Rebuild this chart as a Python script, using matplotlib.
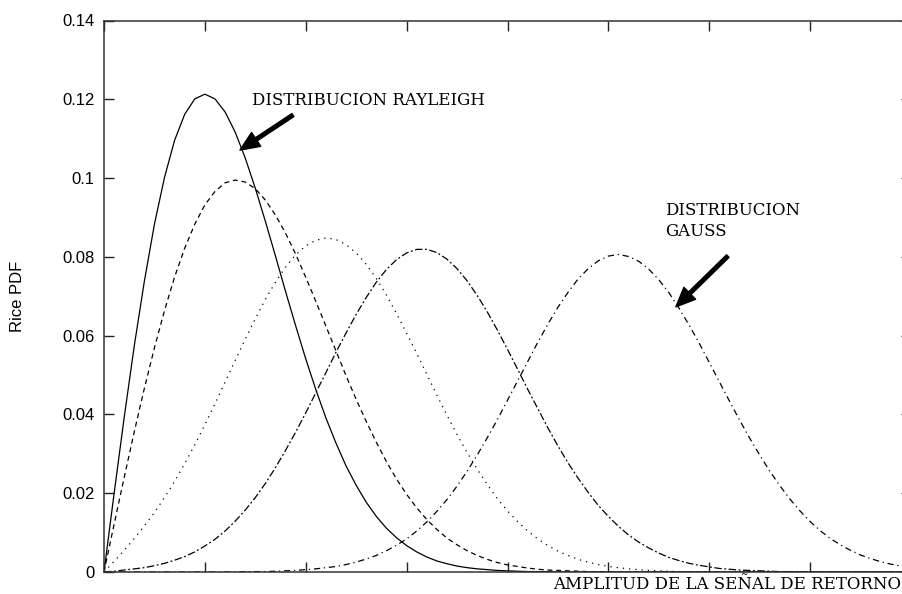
import matplotlib
matplotlib.use("Agg")
import matplotlib.pyplot as plt

# ---- data ----
amplitude = [0.0, 0.1, 0.2, 0.3, 0.4, 0.5, 0.6, 0.7, 0.8, 0.9,
             1.0, 1.1, 1.2, 1.3, 1.4, 1.5, 1.6, 1.7, 1.8, 1.9,
             2.0, 2.1, 2.2, 2.3, 2.4, 2.5, 2.6, 2.7, 2.8, 2.9,
             3.0, 3.1, 3.2, 3.3, 3.4, 3.5, 3.6, 3.7, 3.8, 3.9,
             4.0, 4.1, 4.2, 4.3, 4.4, 4.5, 4.6, 4.7, 4.8, 4.9,
             5.0, 5.1, 5.2, 5.3, 5.4, 5.5, 5.6, 5.7, 5.8, 5.9,
             6.0, 6.1, 6.2, 6.3, 6.4, 6.5, 6.6, 6.7, 6.8, 6.9,
             7.0, 7.1, 7.2, 7.3, 7.4, 7.5, 7.6, 7.7, 7.8, 7.9,
             8.0]

rice_rayleigh = [0.0, 0.0199, 0.0392, 0.0574, 0.0738, 0.0883, 0.1002, 0.1096, 0.1162, 0.1201,
                 0.1213, 0.1201, 0.1168, 0.1117, 0.1051, 0.0974, 0.0890, 0.0802, 0.0712, 0.0625,
                 0.0541, 0.0463, 0.0391, 0.0327, 0.0269, 0.0220, 0.0177, 0.0141, 0.0111, 0.0087,
                 0.0067, 0.0051, 0.0038, 0.0028, 0.0021, 0.0015, 0.0011, 0.0008, 0.0006, 0.0004,
                 0.0003, 0.0002, 0.0001, 0.0001, 0.0001, 0.0, 0.0, 0.0, 0.0, 0.0,
                 0.0, 0.0, 0.0, 0.0, 0.0, 0.0, 0.0, 0.0, 0.0, 0.0,
                 0.0, 0.0, 0.0, 0.0, 0.0, 0.0, 0.0, 0.0, 0.0, 0.0,
                 0.0, 0.0, 0.0, 0.0, 0.0, 0.0, 0.0, 0.0, 0.0, 0.0,
                 0.0]

rice_b = [0.0, 0.0121, 0.0240, 0.0356, 0.0466, 0.0569, 0.0664, 0.0749, 0.0822, 0.0883,
          0.0932, 0.0966, 0.0988, 0.0995, 0.0990, 0.0973, 0.0944, 0.0906, 0.0860, 0.0807,
          0.0748, 0.0687, 0.0624, 0.0561, 0.0498, 0.0438, 0.0382, 0.0329, 0.0280, 0.0236,
          0.0197, 0.0163, 0.0133, 0.0108, 0.0086, 0.0069, 0.0054, 0.0042, 0.0032, 0.0024,
          0.0018, 0.0014, 0.0010, 0.0007, 0.0005, 0.0004, 0.0003, 0.0002, 0.0001, 0.0001,
          0.0001, 0.0, 0.0, 0.0, 0.0, 0.0, 0.0, 0.0, 0.0, 0.0,
          0.0, 0.0, 0.0, 0.0, 0.0, 0.0, 0.0, 0.0, 0.0, 0.0,
          0.0, 0.0, 0.0, 0.0, 0.0, 0.0, 0.0, 0.0, 0.0, 0.0,
          0.0]

rice_c = [0.0, 0.0027, 0.0055, 0.0085, 0.0117, 0.0151, 0.0189, 0.0230, 0.0275, 0.0323,
          0.0374, 0.0427, 0.0482, 0.0537, 0.0591, 0.0643, 0.0692, 0.0736, 0.0774, 0.0805,
          0.0828, 0.0842, 0.0848, 0.0844, 0.0831, 0.0810, 0.0781, 0.0745, 0.0703, 0.0656,
          0.0606, 0.0555, 0.0502, 0.0449, 0.0398, 0.0349, 0.0303, 0.0261, 0.0222, 0.0186,
          0.0155, 0.0128, 0.0104, 0.0084, 0.0067, 0.0053, 0.0042, 0.0032, 0.0025, 0.0019,
          0.0014, 0.0011, 0.0008, 0.0006, 0.0004, 0.0003, 0.0002, 0.0001, 0.0001, 0.0001,
          0.0, 0.0, 0.0, 0.0, 0.0, 0.0, 0.0, 0.0, 0.0, 0.0,
          0.0, 0.0, 0.0, 0.0, 0.0, 0.0, 0.0, 0.0, 0.0, 0.0,
          0.0]

rice_d = [0.0, 0.0002, 0.0005, 0.0008, 0.0011, 0.0016, 0.0022, 0.0030, 0.0039, 0.0051,
          0.0066, 0.0083, 0.0104, 0.0129, 0.0157, 0.0189, 0.0225, 0.0265, 0.0309, 0.0355,
          0.0404, 0.0455, 0.0506, 0.0558, 0.0607, 0.0654, 0.0697, 0.0736, 0.0768, 0.0793,
          0.0810, 0.0819, 0.0819, 0.0811, 0.0794, 0.0770, 0.0739, 0.0702, 0.0660, 0.0614,
          0.0565, 0.0515, 0.0464, 0.0415, 0.0366, 0.0320, 0.0277, 0.0238, 0.0202, 0.0169,
          0.0141, 0.0116, 0.0094, 0.0076, 0.0061, 0.0048, 0.0037, 0.0029, 0.0022, 0.0017,
          0.0013, 0.0009, 0.0007, 0.0005, 0.0004, 0.0003, 0.0002, 0.0001, 0.0001, 0.0001,
          0.0, 0.0, 0.0, 0.0, 0.0, 0.0, 0.0, 0.0, 0.0, 0.0,
          0.0]

rice_gauss = [0.0, 0.0, 0.0, 0.0, 0.0, 0.0, 0.0, 0.0, 0.0, 0.0,
              0.0, 0.0, 0.0, 0.0, 0.0001, 0.0001, 0.0001, 0.0002, 0.0003, 0.0004,
              0.0006, 0.0008, 0.0011, 0.0014, 0.0019, 0.0025, 0.0033, 0.0042, 0.0054, 0.0068,
              0.0084, 0.0104, 0.0127, 0.0154, 0.0184, 0.0218, 0.0256, 0.0297, 0.0341, 0.0387,
              0.0436, 0.0485, 0.0534, 0.0583, 0.0629, 0.0672, 0.0710, 0.0744, 0.0770, 0.0790,
              0.0802, 0.0806, 0.0801, 0.0789, 0.0769, 0.0742, 0.0709, 0.0670, 0.0627, 0.0581,
              0.0532, 0.0483, 0.0434, 0.0386, 0.0340, 0.0297, 0.0256, 0.0219, 0.0185, 0.0155,
              0.0128, 0.0105, 0.0085, 0.0069, 0.0055, 0.0043, 0.0034, 0.0026, 0.0020, 0.0015,
              0.0011]

y_ticks = [0.0, 0.02, 0.04, 0.06, 0.08, 0.10, 0.12, 0.14]
y_tick_labels = ["0", "0.02", "0.04", "0.06", "0.08", "0.1", "0.12", "0.14"]
x_ticks = [0, 1, 2, 3, 4, 5, 6, 7, 8]

y_label = "Rice PDF"
x_label = "AMPLITUD DE LA SEÑAL DE RETORNO"
note_rayleigh = "DISTRIBUCION RAYLEIGH"
note_gauss = "DISTRIBUCION\nGAUSS"

# ---- figure ----
fig = plt.figure(figsize=(9.02, 5.94), dpi=100)
ax = fig.add_axes([104 / 902, 22 / 594, 807 / 902, 551.5 / 594])

lw = 0.9
ax.plot(amplitude, rice_rayleigh, color="black", lw=lw, linestyle="-")
ax.plot(amplitude, rice_b, color="black", lw=lw, linestyle=(0, (4, 3)))
ax.plot(amplitude, rice_c, color="black", lw=lw, linestyle=(0, (1, 4)))
ax.plot(amplitude, rice_d, color="black", lw=lw, linestyle=(0, (6, 2, 1.5, 2)))
ax.plot(amplitude, rice_gauss, color="black", lw=lw, linestyle=(0, (5, 3, 1, 3)))

ax.set_xlim(0, 8)
ax.set_ylim(0, 0.14)
ax.set_xticks(x_ticks)
ax.set_xticklabels([])
ax.set_yticks(y_ticks)
ax.set_yticklabels(y_tick_labels, fontfamily="Liberation Sans", fontsize=12)

for s in ax.spines.values():
    s.set_color("#333333")
    s.set_linewidth(1.1)

ax.tick_params(axis="both", which="both", direction="in", length=7, width=1.0,
               color="#222222", top=True, right=True, pad=7)

ax.set_ylabel(y_label, fontfamily="Liberation Sans", fontsize=12)
ax.yaxis.set_label_coords(-0.098, 0.5)

fig.text(0.999, 0.016, x_label, ha="right", va="center",
         fontfamily="DejaVu Serif", fontsize=12)

arrow_kw = dict(facecolor="black", edgecolor="black", width=2.6,
                headwidth=12, headlength=14, shrink=0.0)

ax.text(1.467, 0.1196, note_rayleigh, ha="left", va="center",
        fontfamily="DejaVu Serif", fontsize=12)
ax.annotate("", xy=(1.348, 0.1071), xytext=(1.873, 0.1160), arrowprops=arrow_kw)

ax.text(5.560, 0.0890, note_gauss, ha="left", va="center",
        fontfamily="DejaVu Serif", fontsize=12, linespacing=1.3)
ax.annotate("", xy=(5.669, 0.0673), xytext=(6.184, 0.0802), arrowprops=arrow_kw)

fig.savefig("out.png", dpi=100)
